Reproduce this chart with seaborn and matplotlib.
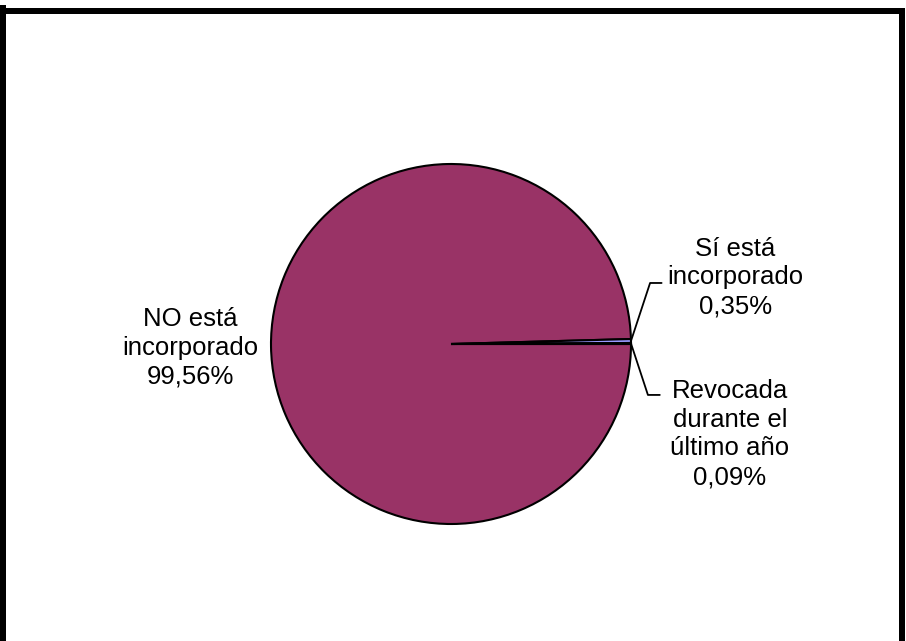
import numpy as np
import matplotlib
matplotlib.use("Agg")
import matplotlib.pyplot as plt
import seaborn as sns

# data
labels = ["NO está\nincorporado", "Sí está\nincorporado", "Revocada\ndurante el\núltimo año"]
values = [99.56, 0.35, 0.09]
pct_text = ["99,56%", "0,35%", "0,09%"]
colors = ["#993366", "#9999FF", "#FFFFCC"]

sns.set_theme(style="white")
plt.rcParams['font.family'] = ['Liberation Sans', 'DejaVu Sans']

W, H, dpi = 906, 641, 100
fig = plt.figure(figsize=(W / dpi, H / dpi), dpi=dpi)
ax = fig.add_axes([0, 0, 1, 1])

# pie center / radius in pixels, used to set up the axes so radius == 1
cx, cy, r = 451, 344, 180

wedges, _ = ax.pie(values, colors=colors, startangle=0, counterclock=False,
                   radius=1, center=(0, 0), frame=True,
                   wedgeprops=dict(edgecolor="black", linewidth=1.5))
ax.set_xlim(-cx / r, (W - cx) / r)
ax.set_ylim(-(H - cy) / r, cy / r)
ax.set_aspect("equal")
ax.axis("off")

fs = 18.5
# big slice label, no leader
ax.text(-1.45, -0.02, labels[0] + "\n" + pct_text[0], ha="center", va="center",
        fontsize=fs, linespacing=1.25, color="black")

# small slices with leader lines
leaders = [
    (1, (1.106, 0.339), 1.17, (1.58, 0.37)),
    (2, (1.094, -0.283), 1.16, (1.55, -0.50)),
]
for i, elbow, xend, tpos in leaders:
    w = wedges[i]
    ang = np.deg2rad((w.theta1 + w.theta2) / 2)
    x0, y0 = np.cos(ang), np.sin(ang)
    ax.plot([x0, elbow[0], xend], [y0, elbow[1], elbow[1]], color="black", lw=1.3)
    ax.text(tpos[0], tpos[1], labels[i] + "\n" + pct_text[i], ha="center", va="center",
            fontsize=fs, linespacing=1.25, color="black")

# outer frame (left, top, right edges only visible)
lw = 6 * 72 / dpi
fig.add_artist(plt.Line2D([3 / W, 3 / W], [0, 1 - 8 / H], transform=fig.transFigure, color="black", lw=lw, solid_capstyle="projecting"))
fig.add_artist(plt.Line2D([0, 901.5 / W], [1 - 11 / H, 1 - 11 / H], transform=fig.transFigure, color="black", lw=lw, solid_capstyle="projecting"))
fig.add_artist(plt.Line2D([901.5 / W, 901.5 / W], [0, 1 - 11 / H], transform=fig.transFigure, color="black", lw=lw, solid_capstyle="projecting"))

fig.savefig("out.png", dpi=dpi, facecolor="white")
